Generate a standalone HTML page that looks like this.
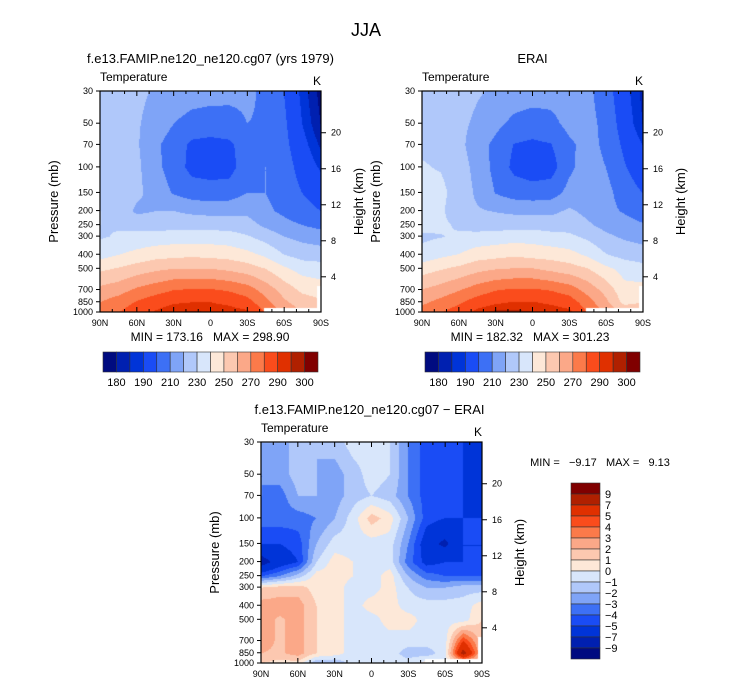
<!DOCTYPE html>
<html><head><meta charset="utf-8"><style>
body{margin:0;background:#fff;}
#wrap{position:relative;width:733px;height:686px;overflow:hidden;font-family:"Liberation Sans",sans-serif;}
canvas{position:absolute;}
svg{position:absolute;left:0;top:0;}
</style></head><body>
<div id="wrap">
<canvas id="c1" style="left:100px;top:91px" width="221" height="221"></canvas>
<canvas id="c2" style="left:422px;top:91px" width="221" height="221"></canvas>
<canvas id="c3" style="left:261px;top:442px" width="221" height="221"></canvas>
<svg id="ov" width="733" height="686"></svg>
</div>
<script>
const lats=[90,75,60,45,30,15,0,-15,-30,-45,-60,-75,-90];
const pres=[30,50,70,100,150,200,250,300,400,500,700,850,1000];
const tempLevels=[180,185,190,200,210,220,230,240,250,260,270,280,290,295,300];
const diffLevels=[-9,-7,-5,-4,-3,-2,-1,0,1,2,3,4,5,7,9];
const tempTickLabels=["180","190","210","230","250","270","290","300"];
const diffTickLabels=["9","7","5","4","3","2","1","0","−1","−2","−3","−4","−5","−7","−9"];
const xTickLabels=["90N","60N","30N","0","30S","60S","90S"];
const presTicks=[30,50,70,100,150,200,250,300,400,500,700,850,1000];
const heightTicks=[4,8,12,16,20];
const modelT=[
[225,224,222,219,217,215,214,213,212,208,200,188,178],
[225,224,221,216,210,206,205,206,210,209,202,190,180],
[226,225,221,212,205,198,197,198,205,209,203,193,184],
[227,226,222,213,205,197,196,196,206,210,205,196,189],
[228,227,222,216,209,205,204,205,210,210,206,200,195],
[230,226,218,220,220,218,217,217,218,212,208,204,200],
[230,229,227,226,226,226,226,226,224,218,213,210,207],
[229,231,233,234,235,235,235,234,231,226,220,217,215],
[236,240,243,246,247,248,247,246,243,238,230,226,225],
[248,251,255,258,260,260,260,258,255,250,242,236,235],
[263,266,272,276,280,281,281,279,275,266,256,248,245],
[270,275,281,286,289,290,290,288,284,273,262,255,252],
[276,280,286,291,295,296,295,294,292,280,268,260,258]];
const diffT=[
[-2,-2,-2,-2,-1.5,-0.5,-0.5,-1,-3,-4.5,-4.5,-5,-5.5],
[-3,-2.5,-1.5,-2,-2.5,-1.5,-0.5,-1,-3,-4.5,-5,-5,-5],
[-3,-3.5,-2,-2,-2.5,-1.5,-1,-1.5,-3,-4.5,-5,-5,-6],
[-3.5,-3.5,-3.5,-3,-2,-0.5,1.5,0.5,-2,-4.5,-5,-5,-5],
[-5,-5,-4.5,-2,-0.5,-0.5,-0.5,-0.5,-3,-6,-7.5,-5,-5],
[-8,-6,-5,-1,0.5,0,-0.5,-0.5,-3.5,-5.5,-5,-5,-5],
[-4,-3,-1.5,0.5,0.5,0,-0.5,0.5,-2,-3.5,-4,-4,-4],
[1,1.5,1.5,0.5,0.5,-0.5,-0.5,0.5,-1,-2,-2,-1.5,-1.5],
[2.5,2.5,2.5,1,0.5,-0.5,0.5,0.5,-0.5,-0.5,-0.5,-0.5,0.5],
[2.5,1.8,2.5,1,0.5,-0.5,-0.5,0.5,0.5,-0.5,-0.5,-0.5,1],
[2.5,1.8,2.5,1,0.5,-0.5,-0.5,-0.5,-0.5,-0.5,-0.5,5,1.5],
[2,1.8,2.5,1,0.5,-0.5,-0.5,-0.5,-1.5,-1.5,-0.5,8,2],
[1,0.5,0.5,-2,-2,-0.5,-0.5,-0.5,-0.5,0.5,-0.5,1,0.5]];
const palette=["#000b80","#0020b0","#0034d8","#1a4cf5","#3d70f5","#7fa4f7","#b0c8fa","#d8e6fb","#fde8d8","#fcc8b0","#fba888","#fb7a4a","#fa4c1c","#e03000","#b02000","#800000"];

const PW=221,PH=221;
const yOfP=p=>Math.log(p/30)/Math.log(1000/30)*PH;
const xOfLat=l=>(90-l)/180*PW;
function hexRGB(h){return [parseInt(h.substr(1,2),16),parseInt(h.substr(3,2),16),parseInt(h.substr(5,2),16)];}
const palRGB=palette.map(hexRGB);
function levelIdx(v,levels){let i=0;while(i<levels.length&&v>=levels[i])i++;return i;}
function sample(grid,x,y){
  let fx=x/(PW-1)*(lats.length-1);let i=Math.min(lats.length-2,Math.floor(fx));let tx=fx-i;
  const yp=pres.map(yOfP);let j=0;while(j<pres.length-2&&y>yp[j+1])j++;
  let ty=(y-yp[j])/(yp[j+1]-yp[j]);ty=Math.max(0,Math.min(1,ty));
  const a=grid[j][i]*(1-tx)+grid[j][i+1]*tx,b=grid[j+1][i]*(1-tx)+grid[j+1][i+1]*tx;
  return a*(1-ty)+b*ty;
}
function drawField(id,grid,levels,mask){
  const cv=document.getElementById(id),ctx=cv.getContext('2d');
  const img=ctx.createImageData(PW,PH);
  for(let y=0;y<PH;y++)for(let x=0;x<PW;x++){
    let c=palRGB[levelIdx(sample(grid,x,y),levels)];
    if(mask&&((y>PH-5&&x>PW*0.74)||(x>PW-5&&y>PH*0.88)))c=[255,255,255];
    const k=(y*PW+x)*4;img.data[k]=c[0];img.data[k+1]=c[1];img.data[k+2]=c[2];img.data[k+3]=255;
  }
  ctx.putImageData(img,0,0);
}
const eraiT=modelT.map((r,j)=>r.map((v,i)=>v-diffT[j][i]));
drawField('c1',modelT,tempLevels,true);
drawField('c2',eraiT,tempLevels,true);
drawField('c3',diffT,diffLevels,true);

const ov=document.getElementById('ov');const NS="http://www.w3.org/2000/svg";
function el(tag,attrs,txt){const e=document.createElementNS(NS,tag);for(const k in attrs)e.setAttribute(k,attrs[k]);if(txt!==undefined)e.textContent=txt;ov.appendChild(e);return e;}
function txt(x,y,s,size,anchor,name,rot){const a={x:x,y:y,'font-size':size,'text-anchor':anchor||'middle',fill:'#000','font-family':'Liberation Sans, sans-serif','xml:space':'preserve'};if(rot)a.transform=`rotate(${rot} ${x} ${y})`;const t=el('text',a,s);t.style.whiteSpace='pre';return t;}
function axes(L,T,title,pfx){
  const g=el('rect',{x:L,y:T,width:PW,height:PH,fill:'none',stroke:'#000','stroke-width':1.2});
  
  txt(L+(title.cx||PW/2),T-28,title.t,13,'middle',pfx+'-title');
  txt(L,T-10,'Temperature',12,'start',pfx+'-variable-label');
  txt(L+PW-4,T-6,'K',12,'middle',pfx+'-units-label');
  for(let l=90;l>=-90;l-=10){const x=L+xOfLat(l),maj=l%30===0;
    el('line',{x1:x,y1:T,x2:x,y2:T+(maj?5:3),stroke:'#000'});el('line',{x1:x,y1:T+PH,x2:x,y2:T+PH-(maj?5:3),stroke:'#000'});}
  xTickLabels.forEach((s,i)=>txt(L+i*PW/6,T+PH+14,s,9,'middle',pfx+'-x-tick-label'));
  presTicks.forEach(p=>{const y=T+yOfP(p);el('line',{x1:L-4,y1:y,x2:L,y2:y,stroke:'#000'});txt(L-7,y+3,String(p),9,'end',pfx+'-y-tick-label');});
  heightTicks.forEach(h=>{const p=1013*Math.exp(-h/7);const y=T+yOfP(p);el('line',{x1:L+PW,y1:y,x2:L+PW+5,y2:y,stroke:'#000'});txt(L+PW+10,y+3,String(h),9,'start',pfx+'-height-tick-label');});
  txt(L-42,T+PH/2,'Pressure (mb)',13,'middle',pfx+'-y-axis-title',-90);
  txt(L+PW+42,T+PH/2,'Height (km)',13,'middle',pfx+'-right-axis-title',-90);
}
txt(366,36,'JJA',18,'middle','figure-title');
axes(100,91,{t:'f.e13.FAMIP.ne120_ne120.cg07 (yrs 1979)'},'model');
axes(422,91,{t:'ERAI'},'erai');
axes(261,442,{t:'f.e13.FAMIP.ne120_ne120.cg07 − ERAI',cx:PW/2-2},'diff');
txt(210,341,'MIN = 173.16   MAX = 298.90',12,'middle','model-min-max');
txt(530,341,'MIN = 182.32   MAX = 301.23',12,'middle','erai-min-max');
txt(600,466,'MIN =   −9.17   MAX =   9.13',11,'middle','diff-min-max');
function hbar(L,pfx){const w=215/16;
  palette.forEach((c,i)=>{const r=el('rect',{x:L+i*w,y:352,width:w,height:20,fill:c,stroke:'#333','stroke-width':0.6});});
  tempTickLabels.forEach((s,k)=>txt(L+(2*k+1)*w,386,s,11,'middle',pfx+'-colorbar-label'));}
hbar(103,'model');hbar(425,'erai');
(function(){const T=483,h=176/16;
  palette.slice().reverse().forEach((c,i)=>{const r=el('rect',{x:571,y:T+i*h,width:29,height:h,fill:c,stroke:'#333','stroke-width':0.6});});
  diffTickLabels.forEach((s,k)=>txt(605,T+(k+1)*h+4,s,11,'start','diff-colorbar-label'));})();
</script>
</body></html>
